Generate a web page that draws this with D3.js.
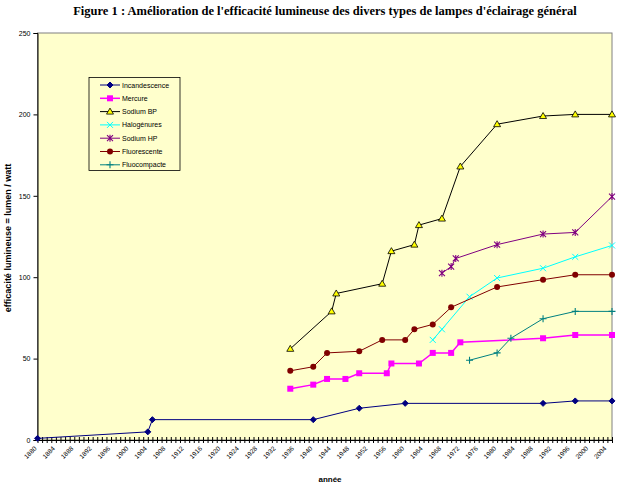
<!DOCTYPE html>
<html>
<head>
<meta charset="utf-8">
<script src="https://cdn.jsdelivr.net/npm/d3@7"></script>
<style>
  body { margin: 0; background: #fff; }
  svg text { font-family: Arial, "Liberation Sans", sans-serif; }
</style>
</head>
<body>
<div id="chart"></div>
<script>
// Chart data: [year, lumen/watt]
const incandescence = [[1880, 1], [1904, 5], [1905, 12.5], [1940, 12.5], [1950, 19.5], [1960, 22.5], [1990, 22.5], [1997, 24], [2005, 24]];
const mercure = [[1935, 31.5], [1940, 34], [1943, 37.5], [1947, 37.5], [1950, 41], [1956, 41], [1957, 47], [1963, 47], [1966, 53.5], [1970, 53.5], [1972, 60], [1990, 62.5], [1997, 64.5], [2005, 64.5]];
const sodiumBP = [[1935, 56], [1944, 79], [1945, 90], [1955, 96], [1957, 116], [1962, 120], [1963, 132], [1968, 136], [1972, 168], [1980, 194], [1990, 199], [1997, 200], [2005, 200]];
const halogenures = [[1966, 61.5], [1968, 68], [1974, 88], [1980, 99.5], [1990, 105.5], [1997, 112.5], [2005, 119.5]];
const sodiumHP = [[1968, 102.5], [1970, 106.5], [1971, 111.5], [1980, 120], [1990, 126.5], [1997, 127.5], [2005, 149.5]];
const fluorescente = [[1935, 42.5], [1940, 45], [1943, 53.5], [1950, 54.5], [1955, 61.5], [1960, 61.5], [1962, 68], [1966, 71], [1970, 81.5], [1980, 94], [1990, 98.5], [1997, 101.5], [2005, 101.5]];
const fluocompacte = [[1974, 49], [1980, 53.5], [1983, 62.5], [1990, 74.5], [1997, 79], [2005, 79]];

const seriesNames = ["Incandescence", "Mercure", "Sodium BP", "Halogénures", "Sodium HP", "Fluorescente", "Fluocompacte"];
const yTicks = [0, 50, 100, 150, 200, 250];
const firstYear = 1880, lastYear = 2005;

const width = 617, height = 488;
const plot = {left: 37.5, right: 612, top: 33, bottom: 440};

const series = [
  {name: seriesNames[0], data: incandescence, color: "#000080", marker: "diamond"},
  {name: seriesNames[1], data: mercure, color: "#ff00ff", marker: "square"},
  {name: seriesNames[2], data: sodiumBP, color: "#000000", marker: "triangle"},
  {name: seriesNames[3], data: halogenures, color: "#00ffff", marker: "x"},
  {name: seriesNames[4], data: sodiumHP, color: "#800080", marker: "star"},
  {name: seriesNames[5], data: fluorescente, color: "#800000", marker: "circle"},
  {name: seriesNames[6], data: fluocompacte, color: "#008080", marker: "plus"}
];

const svg = d3.select("#chart").append("svg")
    .attr("width", width)
    .attr("height", height);

// Title
svg.append("text")
    .attr("x", 325)
    .attr("y", 15)
    .attr("text-anchor", "middle")
    .style("font-family", "'Liberation Serif', 'DejaVu Serif', serif")
    .style("font-size", "12.5px")
    .style("font-weight", "bold")
    .text("Figure 1 : Amélioration de l'efficacité lumineuse des divers types de lampes d'éclairage général");

const x = d3.scaleLinear().domain([firstYear, lastYear]).range([plot.left, plot.right]);
const y = d3.scaleLinear().domain([0, 250]).range([plot.bottom, plot.top]);

// Plot area
svg.append("rect")
    .attr("x", plot.left)
    .attr("y", plot.top)
    .attr("width", plot.right - plot.left)
    .attr("height", plot.bottom - plot.top)
    .attr("fill", "#ffffcc")
    .attr("stroke", "#808080")
    .attr("stroke-width", 1);

// Y axis
const yAxis = svg.append("g")
    .attr("transform", `translate(${plot.left},0)`)
    .call(d3.axisLeft(y).tickValues(yTicks).tickSize(4).tickPadding(3));
yAxis.select(".domain").attr("stroke", "#000");
yAxis.selectAll("text").style("font-size", "7px").attr("fill", "#000");

// X axis: a tick per year, label every 4 years
const years = d3.range(firstYear, lastYear + 1);
const xAxis = svg.append("g")
    .attr("transform", `translate(0,${plot.bottom})`)
    .call(d3.axisBottom(x).tickValues(years).tickSizeOuter(0)
      .tickFormat(d => (d - firstYear) % 4 === 0 && d < lastYear ? d : ""));
xAxis.select(".domain").attr("stroke", "#000");
xAxis.selectAll(".tick line").attr("y1", -3).attr("y2", 3).attr("stroke", "#000");
xAxis.selectAll(".tick text")
    .attr("y", 0)
    .attr("dy", 0)
    .attr("transform", "translate(-1,9) rotate(-45)")
    .attr("text-anchor", "end")
    .attr("fill", "#000")
    .style("font-size", "6.5px");

// Axis titles
svg.append("text")
    .attr("x", 330)
    .attr("y", 482)
    .attr("text-anchor", "middle")
    .style("font-size", "8px")
    .style("font-weight", "bold")
    .text("année");

svg.append("text")
    .attr("transform", "translate(11,238) rotate(-90)")
    .attr("text-anchor", "middle")
    .style("font-size", "9px")
    .style("font-weight", "bold")
    .text("efficacité lumineuse = lumen / watt");

// Marker drawing
function drawMarker(g, type, color, cx, cy) {
  if (type === "diamond") {
    g.append("path").attr("d", `M${cx},${cy - 3}L${cx + 3},${cy}L${cx},${cy + 3}L${cx - 3},${cy}Z`)
      .attr("fill", color).attr("stroke", color);
  } else if (type === "square") {
    g.append("rect").attr("x", cx - 3).attr("y", cy - 3).attr("width", 6).attr("height", 6)
      .attr("fill", color);
  } else if (type === "triangle") {
    g.append("path").attr("d", `M${cx},${cy - 3.5}L${cx + 3.5},${cy + 2.5}L${cx - 3.5},${cy + 2.5}Z`)
      .attr("fill", "#ffff00").attr("stroke", "#000").attr("stroke-width", 0.8);
  } else if (type === "circle") {
    g.append("circle").attr("cx", cx).attr("cy", cy).attr("r", 3).attr("fill", color);
  } else if (type === "x") {
    g.append("path").attr("d", `M${cx - 3},${cy - 3}L${cx + 3},${cy + 3}M${cx - 3},${cy + 3}L${cx + 3},${cy - 3}`)
      .attr("stroke", color).attr("stroke-width", 1);
  } else if (type === "star") {
    g.append("path").attr("d", `M${cx - 3},${cy - 3}L${cx + 3},${cy + 3}M${cx - 3},${cy + 3}L${cx + 3},${cy - 3}M${cx},${cy - 3.5}L${cx},${cy + 3.5}`)
      .attr("stroke", color).attr("stroke-width", 1.1);
  } else if (type === "plus") {
    g.append("path").attr("d", `M${cx - 3.5},${cy}L${cx + 3.5},${cy}M${cx},${cy - 3.5}L${cx},${cy + 3.5}`)
      .attr("stroke", color).attr("stroke-width", 1.1);
  }
}

const line = d3.line().x(d => x(d[0])).y(d => y(d[1]));

series.forEach(s => {
  const g = svg.append("g");
  g.append("path")
      .datum(s.data)
      .attr("fill", "none")
      .attr("stroke", s.color)
      .attr("stroke-width", s.marker === "square" ? 1.5 : 1)
      .attr("d", line);
  s.data.forEach(d => drawMarker(g, s.marker, s.color, x(d[0]), y(d[1])));
});

// Legend
const legend = svg.append("g").attr("transform", "translate(89,77.5)");
legend.append("rect")
    .attr("width", 91)
    .attr("height", 93)
    .attr("fill", "#ffffcc")
    .attr("stroke", "#000")
    .attr("stroke-width", 0.8);

series.forEach((s, i) => {
  const ly = 7.5 + i * 13.3;
  const g = legend.append("g");
  g.append("line")
      .attr("x1", 11).attr("x2", 31)
      .attr("y1", ly).attr("y2", ly)
      .attr("stroke", s.color)
      .attr("stroke-width", s.marker === "square" ? 1.5 : 1);
  drawMarker(g, s.marker, s.color, 21, ly);
  g.append("text")
      .attr("x", 33)
      .attr("y", ly + 2.5)
      .style("font-size", "7px")
      .text(s.name);
});
</script>
</body>
</html>
